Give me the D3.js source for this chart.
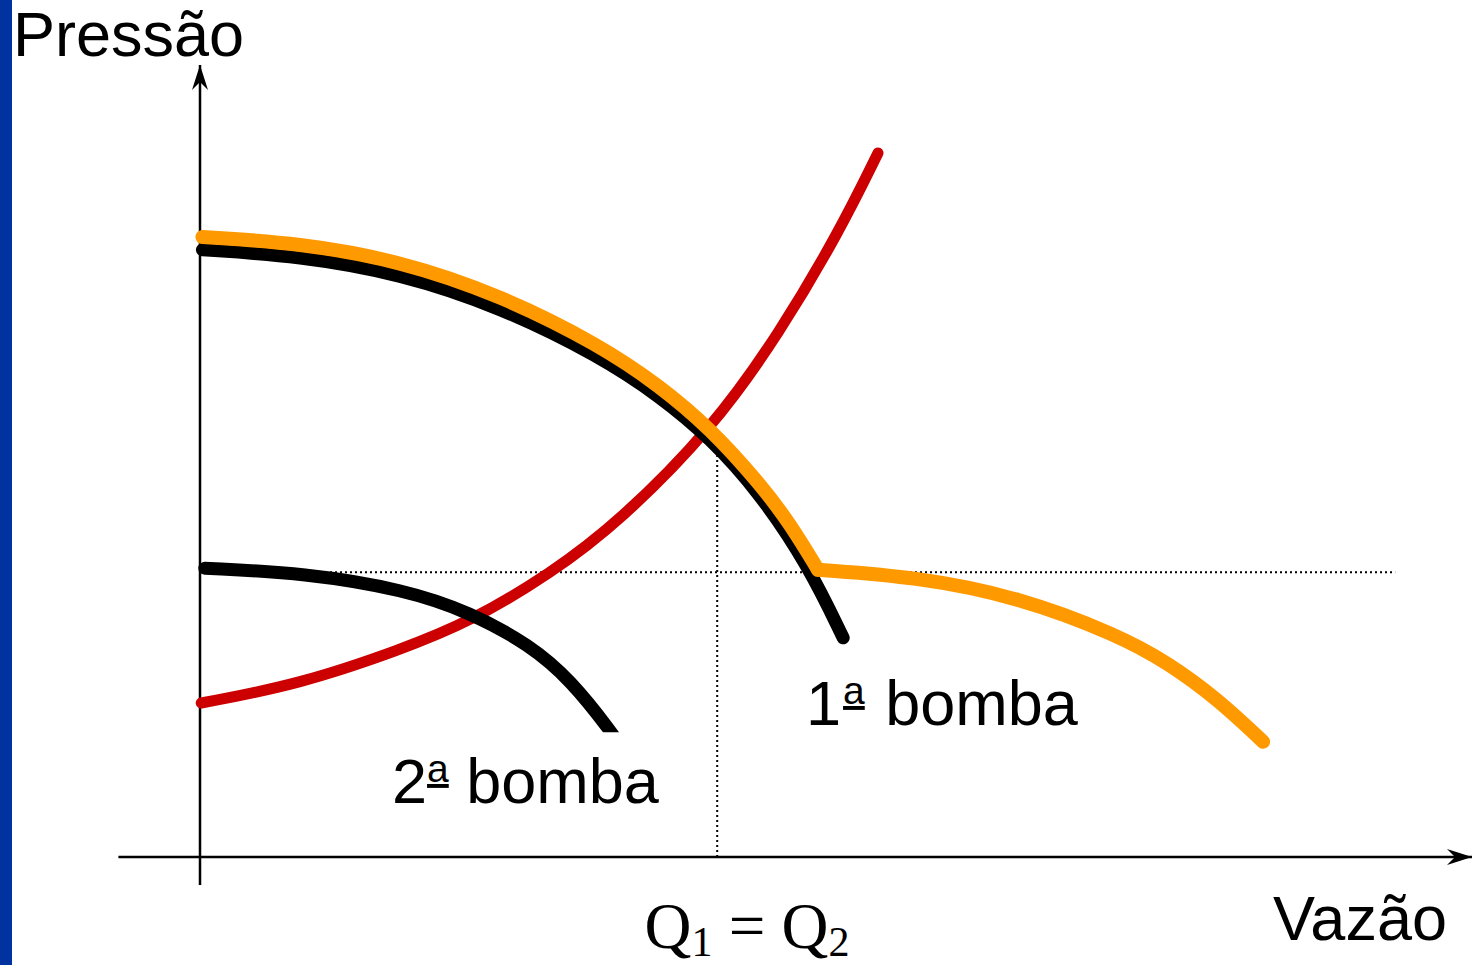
<!DOCTYPE html>
<html>
<head>
<meta charset="utf-8">
<script src="https://cdn.jsdelivr.net/npm/d3@7"></script>
<style>
  html, body { margin: 0; padding: 0; background: #fff; }
  svg { display: block; }
</style>
</head>
<body>
<svg id="chart" width="1478" height="965"></svg>
<script>
// Flow (Q) and head (H) readings, in relative units
const pump1Q = [0.2, 8.3, 16.7, 25, 33.3, 38.3, 42.5, 46.7, 50.7, 53.6];
const pump1H = [75.9, 75.1, 72.9, 68.75, 62.6, 57.6, 52.4, 45.4, 36.4, 27.4];

const pump2Q = [0.4, 8.75, 17.1, 22.5, 27.5, 30.9, 34.3, 35.4];
const pump2H = [36.1, 35.5, 33.4, 30.6, 26.5, 22.1, 15.6, 13.1];

// combined curve: upper branch, then the branch after the switch point
const seriesQa = [0.2, 8.3, 16.7, 25, 33.3, 38.3, 42.5, 46.7, 49.2, 51.5];
const seriesHa = [77.5, 76.75, 74.5, 70.25, 64.0, 58.9, 53.6, 46.6, 41.6, 35.9];
const seriesQb = [51.5, 59.8, 68.2, 76.5, 80.7, 84.8, 88.6];
const seriesHb = [35.9, 35.0, 32.5, 27.75, 24.25, 19.75, 14.4];

// system curve
const systemQ = [0.1, 8.3, 16.7, 22.5, 29.2, 35, 42.7, 48.3, 53.3, 56.5];
const systemH = [19.25, 21.6, 25.9, 29.4, 35.4, 42.0, 53.6, 65.5, 78.25, 88];

// reference lines
const shutoffH = 35.6;      // horizontal dotted level
const operatingQ = 43.1;    // vertical dotted flow
const operatingH = 52.1;
const dottedEndQ = 99.6;
const pump2CutH = 15.6;     // lowest head drawn for the 2nd pump

const axisLabels = { y: "Pressão", x: "Vazão" };

const svg = d3.select("#chart");
const W = 1478, H = 965;

const x = d3.scaleLinear().domain([0, 100]).range([200, 1400]);
const y = d3.scaleLinear().domain([0, 100]).range([857, 57]);

const zip = (qs, hs) => qs.map((q, i) => [q, hs[i]]);
const line = d3.line().x(d => x(d[0])).y(d => y(d[1])).curve(d3.curveBasis);

// left accent band
svg.append("rect").attr("x", 0).attr("y", 0).attr("width", 12).attr("height", H).attr("fill", "#0033a0");

const defs = svg.append("defs");
defs.append("marker")
  .attr("id", "arrow")
  .attr("viewBox", "-26 -9 28 18")
  .attr("refX", 0).attr("refY", 0)
  .attr("markerWidth", 28).attr("markerHeight", 18)
  .attr("markerUnits", "userSpaceOnUse")
  .attr("orient", "auto")
  .append("path")
  .attr("d", "M0,0 L-25,-8 L-17,0 L-25,8 Z")
  .attr("fill", "#000");

defs.append("clipPath").attr("id", "pump2clip")
  .append("rect").attr("x", 0).attr("y", 0).attr("width", W).attr("height", y(pump2CutH));

// axes
svg.append("line")
  .attr("x1", x(0)).attr("y1", y(-3.5)).attr("x2", x(0)).attr("y2", y(99))
  .attr("stroke", "#000").attr("stroke-width", 2.5).attr("marker-end", "url(#arrow)");
svg.append("line")
  .attr("x1", x(-6.8)).attr("y1", y(0)).attr("x2", x(106)).attr("y2", y(0))
  .attr("stroke", "#000").attr("stroke-width", 2.5).attr("marker-end", "url(#arrow)");

// dotted guides
svg.append("line")
  .attr("x1", x(0)).attr("y1", y(shutoffH)).attr("x2", x(dottedEndQ)).attr("y2", y(shutoffH))
  .attr("stroke", "#000").attr("stroke-width", 2).attr("stroke-dasharray", "2,3");
svg.append("line")
  .attr("x1", x(operatingQ)).attr("y1", y(0)).attr("x2", x(operatingQ)).attr("y2", y(operatingH))
  .attr("stroke", "#000").attr("stroke-width", 2).attr("stroke-dasharray", "2,3");

// system curve
svg.append("path").attr("d", line(zip(systemQ, systemH)))
  .attr("fill", "none").attr("stroke", "#cc0000").attr("stroke-width", 11).attr("stroke-linecap", "round");

// pump curves
svg.append("path").attr("d", line(zip(pump2Q, pump2H)))
  .attr("clip-path", "url(#pump2clip)")
  .attr("fill", "none").attr("stroke", "#000").attr("stroke-width", 13).attr("stroke-linecap", "round");
svg.append("path").attr("d", line(zip(pump1Q, pump1H)))
  .attr("fill", "none").attr("stroke", "#000").attr("stroke-width", 13).attr("stroke-linecap", "round");

// combined curve
[zip(seriesQa, seriesHa), zip(seriesQb, seriesHb)].forEach(pts => {
  svg.append("path").attr("d", line(pts))
    .attr("fill", "none").attr("stroke", "#ff9900").attr("stroke-width", 14)
    .attr("stroke-linecap", "round").attr("stroke-linejoin", "round");
});

// labels
const sans = "'Liberation Sans', Arial, Helvetica, sans-serif";
svg.append("text").attr("x", 13).attr("y", 56)
  .attr("font-family", sans).attr("font-size", 63).attr("fill", "#000").text(axisLabels.y);
svg.append("text").attr("x", 1273).attr("y", 940)
  .attr("font-family", sans).attr("font-size", 63).attr("fill", "#000").text(axisLabels.x);

function ordinalLabel(px, py, num, gapA, gapB) {
  const t = svg.append("text").attr("x", px).attr("y", py)
    .attr("font-family", sans).attr("font-size", 63).attr("fill", "#000");
  t.append("tspan").text(num);
  t.append("tspan").attr("font-size", 39).attr("dx", gapA).attr("dy", -21)
    .style("text-decoration", "underline").text("a");
  t.append("tspan").attr("dx", gapB).attr("dy", 21).text(" bomba");
}
ordinalLabel(806, 725, "1", 2, 3);
ordinalLabel(392, 803, "2", 0, 0);

// flow equality label
const serif = "'Liberation Serif', 'Times New Roman', Times, serif";
const q = svg.append("text").attr("x", 747).attr("y", 948).attr("text-anchor", "middle")
  .attr("font-family", serif).attr("font-size", 65).attr("fill", "#000");
q.append("tspan").text("Q");
q.append("tspan").attr("font-size", 42).attr("dy", 8).text("1");
q.append("tspan").attr("dy", -8).text(" = Q");
q.append("tspan").attr("font-size", 42).attr("dy", 8).text("2");
</script>
</body>
</html>
